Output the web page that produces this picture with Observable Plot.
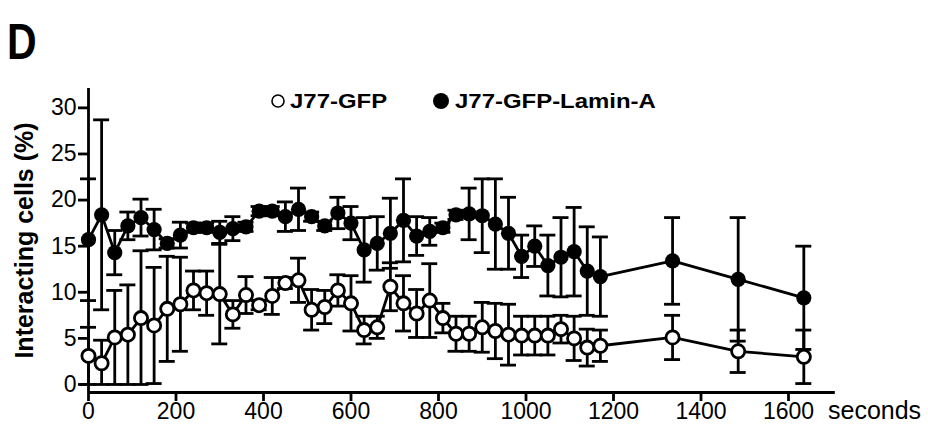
<!DOCTYPE html>
<html>
<head>
<meta charset="utf-8">
<script src="https://cdn.jsdelivr.net/npm/d3@7"></script>
<script src="https://cdn.jsdelivr.net/npm/@observablehq/plot@0.6"></script>
<style>
  html, body { margin: 0; padding: 0; background: #fff; }
  #wrap { position: relative; width: 928px; height: 430px; overflow: hidden;
          font-family: "Liberation Sans", Arial, Helvetica, sans-serif; color: #000; }
  #chart { position: absolute; left: 0; top: 0; }
  .ov { position: absolute; line-height: 1; white-space: nowrap; transform-origin: left top; }
  #panel { left: 7px; top: 17px; font-size: 50px; font-weight: bold; transform: scaleX(0.82); }
  .legtxt { top: 90px; font-size: 21px; font-weight: bold; transform: scaleX(1.14); }
  #xunit { left: 828px; top: 398px; font-size: 25px; }
  #legsvg { position: absolute; left: 0; top: 0; }
</style>
</head>
<body>
<div id="wrap">
  <div id="chart"></div>
  <div id="panel" class="ov">D</div>
  <svg id="legsvg" width="928" height="130"></svg>
  <div id="xunit" class="ov">seconds</div>
</div>
<script>
// ---- data ----
const seconds = [0, 30, 60, 90, 120, 150, 180, 210, 240, 270, 300, 330, 360, 390, 420, 450, 480, 510, 540, 570,
                 600, 630, 660, 690, 720, 750, 780, 810, 840, 870, 900, 930, 960, 990, 1020, 1050, 1080, 1110, 1140, 1170,
                 1335, 1485, 1635];

const gfpMean = [3.1, 2.3, 5.1, 5.4, 7.2, 6.4, 8.2, 8.7, 10.2, 9.9, 9.8, 7.6, 9.7, 8.6, 9.6, 11.0, 11.3, 8.1, 8.4, 10.2,
                 8.8, 5.9, 6.2, 10.6, 8.8, 7.7, 9.1, 7.2, 5.5, 5.5, 6.2, 5.8, 5.4, 5.3, 5.3, 5.3, 6.0, 5.0, 4.0, 4.2,
                 5.1, 3.6, 3.0];
const gfpSem  = [3.1, 2.5, 5.1, 5.4, 7.3, 6.3, 5.7, 5.1, 2.1, 2.4, 5.4, 1.5, 2.0, 0.5, 2.0, 0.6, 2.4, 2.2, 1.8, 1.7,
                 3.0, 1.5, 1.2, 2.6, 3.0, 2.6, 4.0, 1.6, 1.9, 1.9, 2.7, 3.0, 3.3, 2.1, 2.1, 2.1, 1.5, 2.4, 2.0, 1.7,
                 2.4, 2.3, 2.9];

const laminMean = [15.7, 18.4, 14.3, 17.2, 18.1, 16.8, 15.3, 16.2, 17.0, 17.0, 16.5, 16.9, 17.1, 18.8, 18.8, 18.2, 19.0, 18.2, 17.2, 18.6,
                   17.5, 14.6, 15.3, 16.4, 17.8, 16.1, 16.6, 17.0, 18.4, 18.5, 18.3, 17.4, 16.4, 13.9, 15.0, 12.9, 13.8, 14.4, 12.3, 11.7,
                   13.4, 11.4, 9.4];
const laminSem  = [6.6, 10.3, 2.4, 1.5, 2.0, 2.2, 0.5, 1.4, 0.5, 0.5, 1.2, 1.3, 0.5, 0.5, 0.5, 1.6, 2.3, 0.5, 0.5, 1.7,
                   1.8, 3.5, 2.9, 3.8, 4.5, 2.1, 1.5, 0.5, 0.5, 2.8, 4.0, 4.9, 3.9, 2.3, 2.2, 3.3, 4.3, 4.8, 4.8, 4.3,
                   4.7, 6.7, 5.6];

const seriesNames = ["J77-GFP", "J77-GFP-Lamin-A"];
const yTicks = [0, 5, 10, 15, 20, 25, 30];
const xTicks = [0, 200, 400, 600, 800, 1000, 1200, 1400, 1600];
const yTitle = "Interacting cells (%)";
const xUnit = "seconds";
const panelLabel = "D";

// ---- layout / style config ----
const W = 928, H = 430;
const xDomain = [0, 1600];
const yDomain = [-0.87, 32.1];      // axis line sits just below zero, GraphPad style
const mL = 88, mR = 140, mT = 88, mB = 38;
const xPerPx = (xDomain[1] - xDomain[0]) / (W - mL - mR);
const capHalf = 8 * xPerPx;         // 8px half-width error caps
const xAxisEnd = 1707;
const SW = 2.8;

// ---- build table ----
const rows = [];
seconds.forEach((t, i) => {
  rows.push({series: seriesNames[0], t, v: gfpMean[i], e: gfpSem[i]});
  rows.push({series: seriesNames[1], t, v: laminMean[i], e: laminSem[i]});
});
rows.forEach(d => { d.lo = Math.max(0, d.v - d.e); d.hi = d.v + d.e; });
const gfp = rows.filter(d => d.series === seriesNames[0]);
const lam = rows.filter(d => d.series === seriesNames[1]);

function errMarks(data) {
  return [
    Plot.ruleX(data, {x: "t", y1: "lo", y2: "hi", stroke: "black", strokeWidth: SW}),
    Plot.ruleY(data, {y: "hi", x1: d => d.t - capHalf, x2: d => d.t + capHalf, stroke: "black", strokeWidth: SW}),
    Plot.ruleY(data, {y: "lo", x1: d => d.t - capHalf, x2: d => d.t + capHalf, stroke: "black", strokeWidth: SW})
  ];
}

const chart = Plot.plot({
  width: W, height: H,
  marginLeft: mL, marginRight: mR, marginTop: mT, marginBottom: mB,
  style: {fontFamily: '"Liberation Sans", Arial, sans-serif', fontSize: "23px", color: "black", background: "white", overflow: "visible"},
  x: {domain: xDomain},
  y: {domain: yDomain},
  marks: [
    Plot.ruleX([0], {stroke: "black", strokeWidth: SW}),
    Plot.ruleY([yDomain[0]], {x1: xDomain[0], x2: xAxisEnd, stroke: "black", strokeWidth: SW}),
    Plot.axisY(yTicks, {tickSize: 10, tickPadding: 2, strokeWidth: SW, label: null, fontSize: 23, tickFormat: d => String(d)}),
    Plot.axisX(xTicks, {tickSize: 9, tickPadding: 1, strokeWidth: SW, label: null, fontSize: 23, tickFormat: d => String(d)}),
    Plot.text([yTitle], {frameAnchor: "left", textAnchor: "middle", rotate: -90, dx: -64, fontSize: 25, fontWeight: "bold"}),
    Plot.line(gfp, {x: "t", y: "v", stroke: "black", strokeWidth: SW}),
    Plot.line(lam, {x: "t", y: "v", stroke: "black", strokeWidth: SW}),
    ...errMarks(gfp),
    ...errMarks(lam),
    Plot.dot(gfp, {x: "t", y: "v", r: 6.6, fill: "white", stroke: "black", strokeWidth: SW}),
    Plot.dot(lam, {x: "t", y: "v", r: 7.6, fill: "black", stroke: "none"})
  ]
});
document.getElementById("chart").appendChild(chart);
document.getElementById("panel").textContent = panelLabel;
document.getElementById("xunit").textContent = xUnit;

// ---- legend ----
const leg = d3.select("#legsvg");
const legItems = [
  {name: seriesNames[0], cx: 278, r: 6, fill: "white", sw: 1.6, tx: 290},
  {name: seriesNames[1], cx: 441, r: 8, fill: "black", sw: 0, tx: 455}
];
legItems.forEach(it => {
  leg.append("circle").attr("cx", it.cx).attr("cy", 101).attr("r", it.r)
     .attr("fill", it.fill).attr("stroke", "black").attr("stroke-width", it.sw);
  const div = document.createElement("div");
  div.className = "ov legtxt";
  div.style.left = it.tx + "px";
  div.textContent = it.name;
  document.getElementById("wrap").appendChild(div);
});
</script>
</body>
</html>
